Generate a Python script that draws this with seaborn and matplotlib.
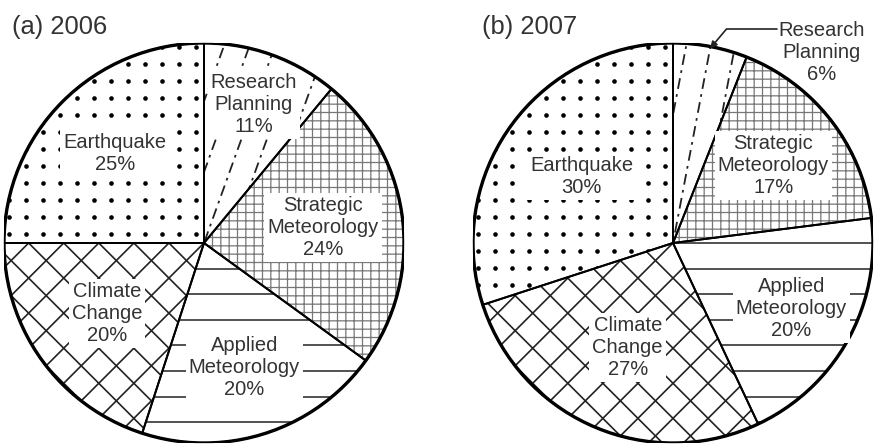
import numpy as np
import matplotlib
matplotlib.use('Agg')
import matplotlib.pyplot as plt
from matplotlib.patches import Wedge
import seaborn as sns

sns.set_style('white')
plt.rcParams['font.family'] = ['Liberation Sans', 'DejaVu Sans']
plt.rcParams['hatch.color'] = '#777777'
plt.rcParams['hatch.linewidth'] = 0.9

# data
categories = ['Earthquake', 'Climate\nChange', 'Applied\nMeteorology',
              'Strategic\nMeteorology', 'Research\nPlanning']
share_2006 = [25, 20, 20, 24, 11]
share_2007 = [30, 27, 20, 17, 6]
panel_titles = ['(a) 2006', '(b) 2007']

# where the labels sit, as a fraction of the radius (None = outside with arrow)
label_r_2006 = [0.63, 0.60, 0.655, 0.60, 0.735]
label_r_2007 = [0.565, 0.57, 0.675, 0.635, None]

TXT = '#333333'
FS = 14.5


def hatch_lines(ax, wedge, angle, step, **kw):
    # parallel lines over the disc, clipped to one wedge
    a = np.deg2rad(angle)
    d = np.array([np.cos(a), np.sin(a)])
    n = np.array([-d[1], d[0]])
    k = int(1.2 / step) + 1
    for off in step * np.arange(-k, k + 1):
        p0 = n * off - d * 1.3
        p1 = n * off + d * 1.3
        ln, = ax.plot([p0[0], p1[0]], [p0[1], p1[1]], **kw)
        ln.set_clip_path(wedge)


def hatch_dots(ax, wedge, step):
    g = step * (np.arange(-13, 13) + 0.55)
    xx, yy = np.meshgrid(g, g)
    sc = ax.scatter(xx.ravel(), yy.ravel(), s=11, c='black', linewidths=0, zorder=1)
    sc.set_clip_path(wedge)


def draw_pie(ax, values, radii):
    # grey edge here only so the grid hatch comes out grey; borders redrawn below
    wedges, _ = ax.pie(values, startangle=90, counterclock=True, radius=1,
                       hatch=['', '', '', '++', ''],
                       wedgeprops=dict(facecolor='white', edgecolor='#777777',
                                       linewidth=0.5))
    for w in wedges:
        w.set_zorder(0)
    eq, cc, am, sm, rp = wedges
    hatch_dots(ax, eq, 0.085)
    hatch_lines(ax, cc, 45, 0.124, color='#222222', lw=1.2, zorder=1)
    hatch_lines(ax, cc, -45, 0.124, color='#222222', lw=1.2, zorder=1)
    hatch_lines(ax, am, 0, 0.128, color='#222222', lw=1.1, zorder=1)
    mid = (rp.theta1 + rp.theta2) / 2
    hatch_lines(ax, rp, mid, 0.12, color='#222222', lw=1.3,
                ls=(0, (6, 3, 1.5, 3)), zorder=1)
    # slice borders on top of the hatching
    for w in wedges:
        ax.add_patch(Wedge((0, 0), 1, w.theta1, w.theta2, fill=False,
                           edgecolor='black', linewidth=1.4, zorder=2))
    ax.add_patch(plt.Circle((0, 0), 1, fill=False, lw=2.4, ec='black', zorder=3))

    for w, cat, v, r in zip(wedges, categories, values, radii):
        if r is None:
            continue
        th = np.deg2rad((w.theta1 + w.theta2) / 2)
        ax.text(r * np.cos(th), r * np.sin(th), f'{cat}\n{v}%',
                ha='center', va='center', multialignment='center',
                fontsize=FS, color=TXT, zorder=5,
                bbox=dict(boxstyle='square,pad=0.15', fc='white', ec='none'))
    ax.set_xlim(-1, 1)
    ax.set_ylim(-1, 1)
    ax.set_aspect('equal')
    ax.axis('off')
    return wedges


W, H = 885, 447
fig = plt.figure(figsize=(W / 100, H / 100), dpi=100)
ax1 = fig.add_axes([4 / W, 4 / H, 400 / W, 400 / H])
ax2 = fig.add_axes([473 / W, 4 / H, 400 / W, 400 / H])

draw_pie(ax1, share_2006, label_r_2006)
w2 = draw_pie(ax2, share_2007, label_r_2007)

fig.text(12 / W, 1 - 27 / H, panel_titles[0], fontsize=18.4, color=TXT,
         ha='left', va='center')
fig.text(482 / W, 1 - 27 / H, panel_titles[1], fontsize=18.4, color=TXT,
         ha='left', va='center')

# outside label for the small Research Planning slice of 2007
rp = w2[4]
th = np.deg2rad((rp.theta1 + rp.theta2) / 2)
ax2.text(0.745, 0.95, f'{categories[4]}\n{share_2007[4]}%', ha='center',
         va='center', multialignment='center', fontsize=FS, color=TXT)
ax2.annotate('', xy=(0.99 * np.cos(th), 0.99 * np.sin(th)), xytext=(0.52, 1.07),
             arrowprops=dict(arrowstyle='-|>', color='#222222', lw=1.2,
                             connectionstyle='angle,angleA=0,angleB=50,rad=0',
                             shrinkA=0, shrinkB=0),
             annotation_clip=False, zorder=6)

fig.savefig('out.png', dpi=100, facecolor='white')
